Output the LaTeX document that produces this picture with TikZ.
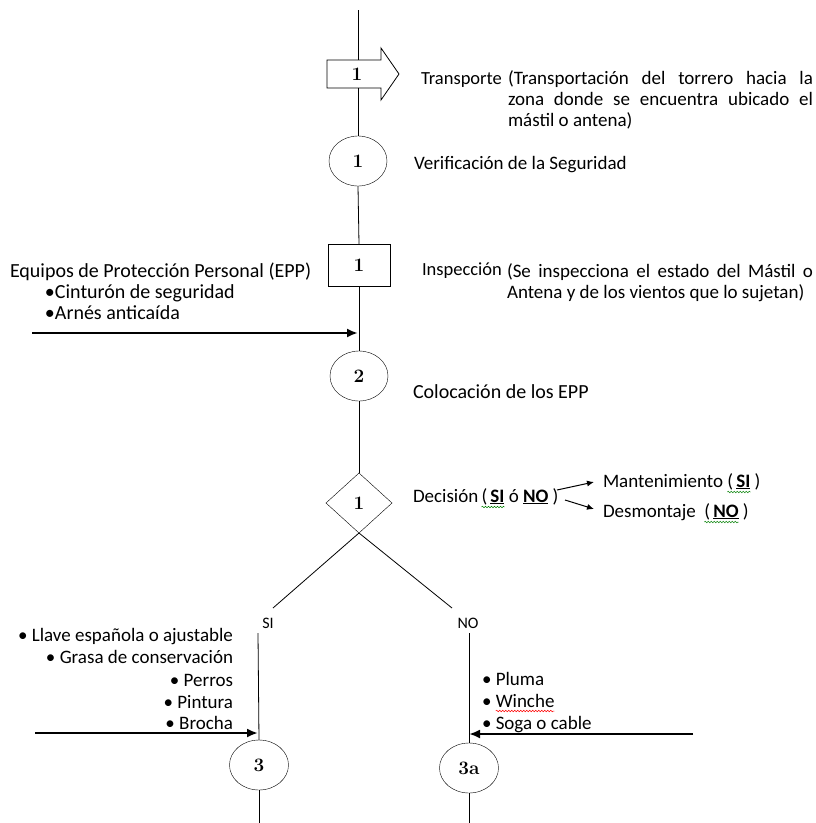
\documentclass[tikz,border=0pt]{standalone}
\usepackage{fontspec}
\setmainfont{Carlito}
\newfontfamily\numfont{Latin Modern Roman}
\usetikzlibrary{arrows.meta,shapes.geometric,decorations.pathmorphing}
\begin{document}
\begin{tikzpicture}[x=1pt,y=-1pt,
  every node/.style={inner sep=0pt,outer sep=0pt},
  txt/.style={font=\fontsize{19}{23}\selectfont},
  btxt/.style={font=\fontsize{20}{24}\selectfont},
  stxt/.style={font=\fontsize{16}{19}\selectfont},
  num/.style={font=\numfont\fontsize{19}{19}\selectfont\bfseries},
  oper/.style={ellipse,draw,fill=white,minimum width=58pt,minimum height=50pt,num},
  insp/.style={draw,fill=white,minimum width=62pt,minimum height=42pt,num},
  deci/.style={diamond,draw,fill=white,minimum width=66pt,minimum height=60pt,num},
  flow/.style={line width=0.8pt},
  input/.style={line width=2.6pt,-{Latex[length=11pt,width=9pt]}},
  small/.style={line width=1pt,-{Latex[length=7pt,width=6pt]}},
  wave/.style={line width=0.5pt,decorate,decoration={snake,amplitude=0.8pt,segment length=3pt}},
  gw/.style={wave,draw=green!50!black},
  rw/.style={wave,draw=red}]
\useasboundingbox[fill=white] (0,0) rectangle (816,823);

% main column
\coordinate (top) at (358,10);
\coordinate (trT) at (358,60);
\coordinate (trB) at (358,88);
\draw[flow] (top) -- (trT);
\draw[flow,fill=white] (327,60) -- (381,60) -- (381,48) -- (399,74) -- (381,100) -- (381,88) -- (327,88) -- cycle;
\node[num] (tr) at (357,74) {1};
\node[oper] (c1) at (358,161) {1};
\node[insp] (b1) at (359,265) {1};
\node[oper] (c2) at (359,376) {2};
\node[deci] (d1) at (359,503) {1};
\draw[flow] (trB) -- (c1.north);
\draw[flow] (c1.south) -- (b1.north);
\draw[flow] (b1.south) -- (c2.north);
\draw[flow] (c2.south) -- (d1.north);

% branches
\coordinate (siE) at (273,608);
\coordinate (noE) at (452,608);
\draw[flow] (d1.south) -- (siE);
\draw[flow] (d1.south) -- (noE);
\node[stxt,anchor=base] (si) at (268,628) {SI};
\node[stxt,anchor=base] (no) at (468,628) {NO};
\coordinate (siT) at (258,633);
\coordinate (noT) at (469,633);
\node[oper,minimum width=59pt] (c3) at (259,765) {3};
\node[oper,minimum width=59pt] (c3a) at (469,768) {3a};
\coordinate (siB) at (259,823);
\coordinate (noB) at (469,823);
\draw[flow] (siT) -- (c3.north);
\draw[flow] (c3.south) -- (siB);
\draw[flow] (noT) -- (c3a.north);
\draw[flow] (c3a.south) -- (noB);

% inputs
\coordinate (eppS) at (32,333);
\coordinate (eppI) at (358,333);
\draw[input] (eppS) -- (eppI);
\coordinate (siS) at (35,733);
\coordinate (siI) at (258,733);
\draw[input] (siS) -- (siI);
\coordinate (noS) at (693,734);
\coordinate (noI) at (469,734);
\draw[input] (noS) -- (noI);

% texts
\node[txt,anchor=base west,font=\fontsize{18.5}{22}\selectfont] (t1) at (421,84) {Transporte};
\node[txt,anchor=base west] (t1a) at (508,84) {\makebox[305pt][s]{(Transportación del torrero hacia la}};
\node[txt,anchor=base west] (t1b) at (508,105) {\makebox[305pt][s]{zona donde se encuentra ubicado el}};
\node[txt,anchor=base west] (t1c) at (508,126) {mástil o antena)};
\node[txt,anchor=base west] (t2) at (414,169) {Verificación de la Seguridad};
\node[btxt,anchor=base west] (e1) at (10,277) {Equipos de Protección Personal (EPP)};
\node[btxt,anchor=base west] (e2) at (45,298) {•Cinturón de seguridad};
\node[btxt,anchor=base west] (e3) at (45,319) {•Arnés anticaída};
\node[txt,anchor=base west,font=\fontsize{18.5}{22}\selectfont] (t3) at (422,275) {Inspección};
\node[txt,anchor=base west] (t3a) at (507,277) {\makebox[306pt][s]{(Se inspecciona el estado del Mástil o}};
\node[txt,anchor=base west] (t3b) at (507,298) {Antena y de los vientos que lo sujetan)};
\node[btxt,anchor=base west] (t4) at (413,398) {Colocación de los EPP};

% decision text, split for the spell-check marks
\node[txt,anchor=base west] (t5a) at (413,502) {Decisión\,\kern0pt};
\node[txt,anchor=base west] (t5b) at (t5a.base east) {(\,\underline{\textbf{SI}}};
\node[txt,anchor=base west] (t5c) at (t5b.base east) {\ ó \underline{\textbf{NO}} )};
\draw[gw] ([yshift=-5pt]t5b.base west) -- ([yshift=-5pt]t5b.base east);
\node[txt,anchor=base west] (m1a) at (603,487) {Mantenimiento\ \kern0pt};
\node[txt,anchor=base west] (m1b) at (m1a.base east) {(\,\underline{\textbf{SI}}};
\node[txt,anchor=base west] (m1c) at (m1b.base east) {\ )};
\draw[gw] ([yshift=-5pt]m1b.base west) -- ([yshift=-5pt]m1b.base east);
\node[txt,anchor=base west] (m2a) at (603,517) {Desmontaje\ \ \kern0pt};
\node[txt,anchor=base west] (m2b) at (m2a.base east) {(\,\underline{\textbf{NO}}};
\node[txt,anchor=base west] (m2c) at (m2b.base east) {\ )};
\draw[gw] ([yshift=-5pt]m2b.base west) -- ([yshift=-5pt]m2b.base east);
\coordinate (a1s) at (557,490);
\coordinate (a1e) at (594,482);
\coordinate (a2s) at (565,500);
\coordinate (a2e) at (594,509);
\draw[small] (a1s) -- (a1e);
\draw[small] (a2s) -- (a2e);

\node[txt,anchor=base east] (l1) at (233,641) {• Llave española o ajustable};
\node[txt,anchor=base east] (l2) at (233,663) {• Grasa de conservación};
\node[txt,anchor=base east] (l3) at (233,686) {• Perros};
\node[txt,anchor=base east] (l4) at (233,708) {• Pintura};
\node[txt,anchor=base east] (l5) at (233,729) {• Brocha};
\node[txt,anchor=base west] (r1) at (482,685) {• Pluma};
\node[txt,anchor=base west] (r2a) at (482,707) {•\ \kern0pt};
\node[txt,anchor=base west] (r2b) at (r2a.base east) {Winche};
\draw[rw] ([yshift=-4pt]r2b.base west) -- ([yshift=-4pt]r2b.base east);
\node[txt,anchor=base west] (r3) at (482,729) {• Soga o cable};
\end{tikzpicture}
\end{document}
